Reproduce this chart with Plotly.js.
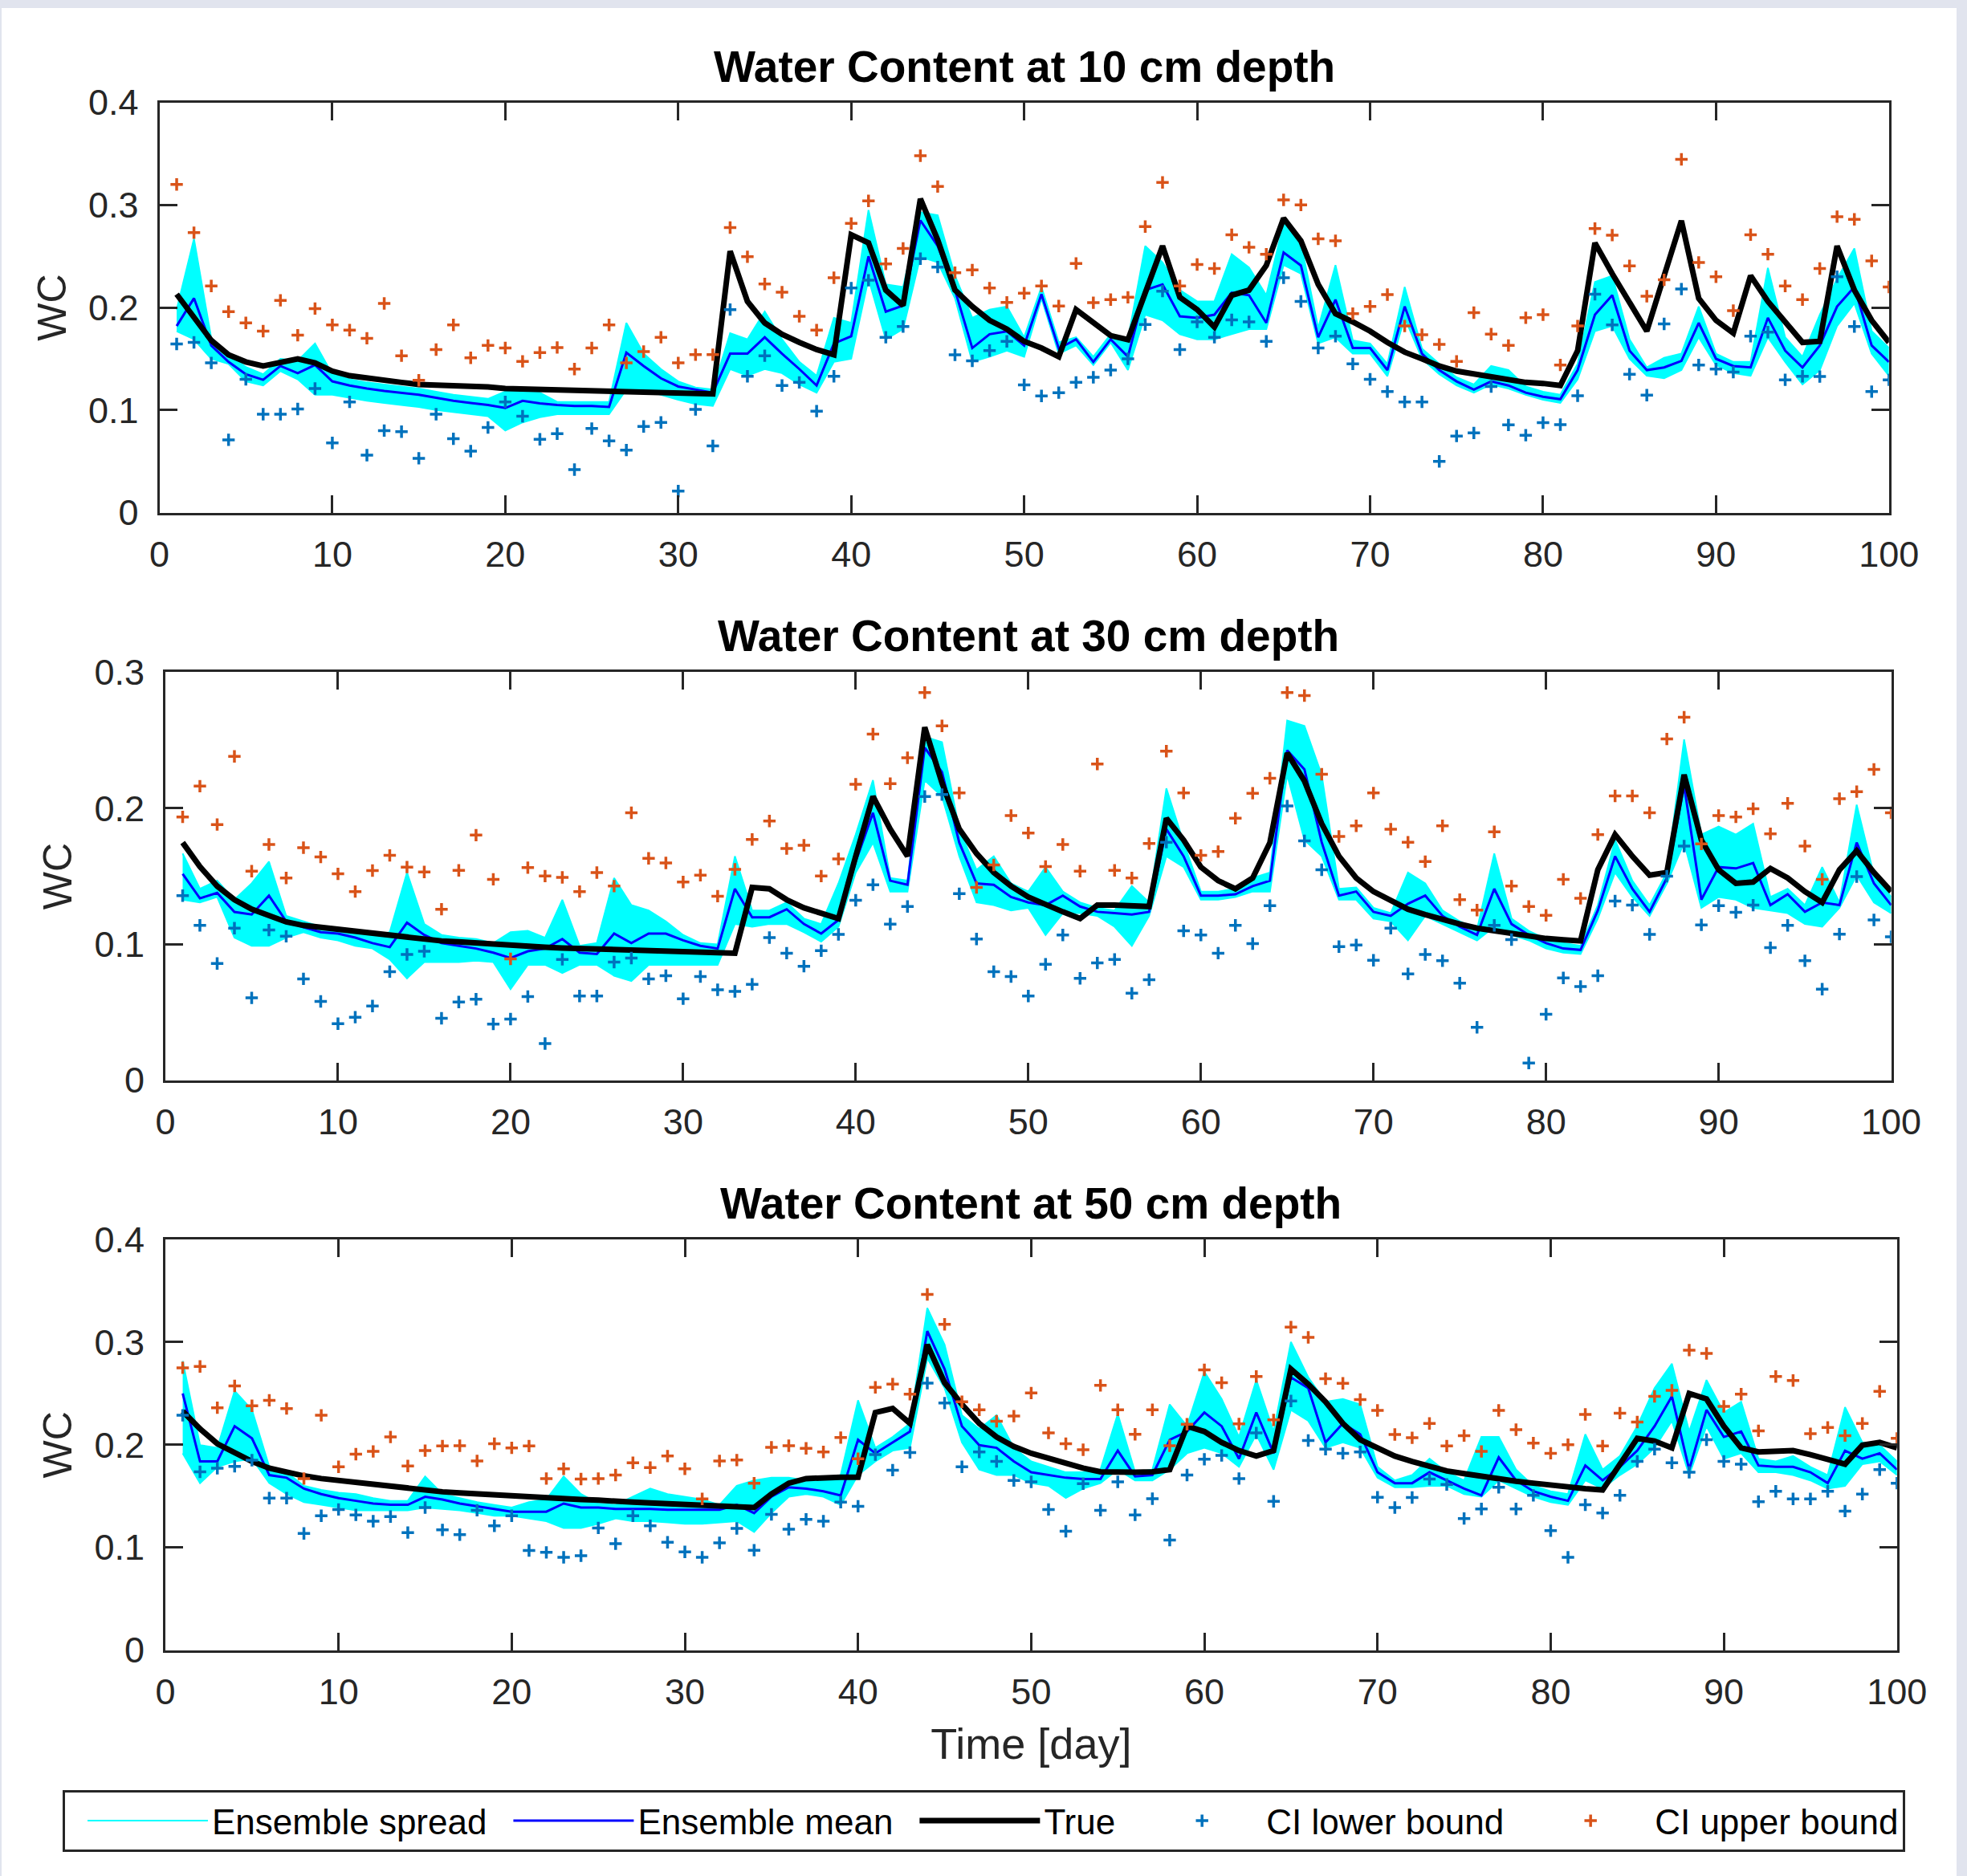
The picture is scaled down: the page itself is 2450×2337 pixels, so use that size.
<!DOCTYPE html>
<html>
<head>
<meta charset="utf-8">
<script src="https://cdn.plot.ly/plotly-3.0.1.min.js"></script>
<style>
  html, body { margin: 0; padding: 0; background: #e1e4ee; }
  #plot { position: absolute; left: 2px; top: 10px; width: 2435px; height: 2327px; background: #ffffff; }
</style>
</head>
<body>
<div id="plot"></div>
<script>
// ---------------- DATA ----------------
const days = [1,2,3,4,5,6,7,8,9,10,11,12,13,14,15,16,17,18,19,20,21,22,23,24,25,26,27,28,29,30,31,32,33,34,35,36,37,38,39,40,41,42,43,44,45,46,47,48,49,50,51,52,53,54,55,56,57,58,59,60,61,62,63,64,65,66,67,68,69,70,71,72,73,74,75,76,77,78,79,80,81,82,83,84,85,86,87,88,89,90,91,92,93,94,95,96,97,98,99,100];

const panelTitles = ["Water Content at 10 cm depth", "Water Content at 30 cm depth", "Water Content at 50 cm depth"];
const seriesNames = ["Ensemble spread", "Ensemble mean", "True", "CI lower bound", "CI upper bound"];
const yLabel = "WC";
const xLabel = "Time [day]";
const yTop = [0.4, 0.3, 0.4];

// ---- 10 cm ----
const true10 = [0.213,0.190,0.168,0.154,0.147,0.143,0.147,0.150,0.146,0.138,0.1335,0.131,0.129,0.127,0.125,0.1246,0.1238,0.123,0.1225,0.121,0.1205,0.120,0.1195,0.119,0.1188,0.1185,0.118,0.1175,0.117,0.116,0.1158,0.1157,0.255,0.206,0.185,0.174,0.166,0.159,0.154,0.271,0.263,0.217,0.202,0.306,0.266,0.217,0.201,0.1875,0.179,0.167,0.1605,0.152,0.198,0.185,0.1726,0.1686,0.2145,0.260,0.210,0.198,0.181,0.212,0.217,0.241,0.287,0.265,0.2226,0.194,0.186,0.177,0.166,0.1565,0.150,0.143,0.138,0.135,0.132,0.1295,0.127,0.126,0.124,0.158,0.263,0.233,0.204,0.177,0.231,0.2846,0.209,0.1875,0.175,0.231,0.206,0.185,0.166,0.167,0.260,0.217,0.1875,0.166];
const mean10 = [0.182,0.209,0.163,0.147,0.135,0.1295,0.143,0.136,0.144,0.128,0.124,0.121,0.1187,0.117,0.115,0.112,0.109,0.107,0.105,0.102,0.109,0.1066,0.105,0.104,0.104,0.103,0.156,0.143,0.131,0.123,0.120,0.117,0.155,0.155,0.171,0.155,0.140,0.124,0.165,0.172,0.250,0.196,0.202,0.285,0.260,0.217,0.1605,0.174,0.1767,0.163,0.213,0.160,0.169,0.147,0.169,0.152,0.217,0.2225,0.1915,0.190,0.193,0.2145,0.212,0.185,0.2536,0.241,0.171,0.2077,0.1605,0.1605,0.139,0.201,0.155,0.139,0.128,0.120,0.128,0.124,0.117,0.113,0.1106,0.139,0.193,0.212,0.158,0.139,0.1416,0.148,0.185,0.150,0.143,0.1416,0.190,0.158,0.1416,0.163,0.201,0.220,0.163,0.147];
const ensLo10 = [0.177,0.169,0.150,0.145,0.128,0.124,0.138,0.130,0.115,0.115,0.112,0.109,0.107,0.105,0.103,0.100,0.098,0.096,0.094,0.080,0.088,0.093,0.096,0.096,0.096,0.096,0.120,0.120,0.115,0.110,0.106,0.104,0.140,0.1335,0.140,0.136,0.125,0.117,0.147,0.150,0.228,0.169,0.179,0.2495,0.244,0.209,0.147,0.152,0.158,0.152,0.209,0.155,0.163,0.144,0.166,0.139,0.193,0.1875,0.174,0.169,0.169,0.174,0.179,0.179,0.2414,0.233,0.165,0.171,0.155,0.155,0.133,0.190,0.150,0.135,0.124,0.117,0.125,0.121,0.115,0.110,0.107,0.130,0.177,0.182,0.150,0.1335,0.131,0.139,0.171,0.144,0.136,0.1335,0.171,0.147,0.125,0.139,0.182,0.204,0.155,0.1335];
const ensHi10 = [0.198,0.267,0.170,0.155,0.142,0.135,0.150,0.148,0.165,0.135,0.130,0.127,0.125,0.123,0.121,0.118,0.115,0.113,0.111,0.118,0.119,0.117,0.108,0.108,0.108,0.108,0.185,0.155,0.140,0.128,0.122,0.120,0.175,0.169,0.196,0.169,0.147,0.1335,0.190,0.185,0.295,0.2225,0.220,0.293,0.290,0.231,0.190,0.198,0.201,0.171,0.220,0.166,0.171,0.152,0.174,0.169,0.260,0.244,0.217,0.206,0.206,0.252,0.239,0.212,0.282,0.263,0.180,0.2414,0.168,0.165,0.145,0.220,0.160,0.145,0.132,0.125,0.143,0.139,0.123,0.118,0.115,0.145,0.225,0.231,0.169,0.1416,0.151,0.155,0.201,0.155,0.147,0.147,0.2387,0.171,0.152,0.193,0.228,0.2576,0.177,0.1605];
const ciLow10 = [0.1645,0.166,0.146,0.071,0.130,0.096,0.096,0.101,0.121,0.068,0.108,0.056,0.080,0.079,0.053,0.096,0.072,0.060,0.083,0.108,0.094,0.0715,0.077,0.042,0.082,0.070,0.061,0.084,0.088,0.021,0.1006,0.065,0.198,0.133,0.153,0.124,0.127,0.099,0.133,0.219,0.2266,0.171,0.1815,0.2476,0.2395,0.1538,0.148,0.158,0.167,0.1246,0.1138,0.117,0.127,0.132,0.139,0.150,0.1834,0.216,0.159,0.186,0.171,0.188,0.186,0.167,0.229,0.206,0.1605,0.172,0.145,0.130,0.118,0.108,0.108,0.050,0.0747,0.0777,0.123,0.0855,0.0755,0.0877,0.0858,0.114,0.213,0.183,0.135,0.1146,0.184,0.218,0.144,0.140,0.137,0.172,0.176,0.1295,0.133,0.1327,0.230,0.1815,0.118,0.1295];
const ciUp10 = [0.320,0.273,0.221,0.196,0.185,0.177,0.207,0.173,0.199,0.183,0.178,0.170,0.204,0.153,0.129,0.159,0.183,0.151,0.163,0.1605,0.1475,0.156,0.161,0.140,0.1605,0.183,0.146,0.157,0.171,0.146,0.154,0.154,0.278,0.2495,0.223,0.215,0.1915,0.178,0.229,0.282,0.304,0.2425,0.2576,0.348,0.318,0.234,0.2366,0.219,0.205,0.214,0.221,0.2015,0.243,0.2047,0.2077,0.210,0.279,0.322,0.221,0.242,0.238,0.271,0.2587,0.252,0.305,0.300,0.267,0.265,0.194,0.201,0.2126,0.182,0.1735,0.164,0.1475,0.195,0.174,0.163,0.190,0.193,0.144,0.182,0.277,0.2706,0.2406,0.211,0.227,0.3445,0.244,0.230,0.197,0.271,0.252,0.221,0.2077,0.238,0.2886,0.286,0.2455,0.220];

// ---- 30 cm ----
const true30 = [0.1747,0.157,0.1427,0.1327,0.1257,0.121,0.1164,0.1138,0.1124,0.111,0.1088,0.1072,0.1058,0.1048,0.1038,0.1024,0.1018,0.1008,0.100,0.0992,0.0984,0.0978,0.0972,0.0968,0.0962,0.0956,0.0952,0.0948,0.0944,0.094,0.0938,0.0936,0.0934,0.1417,0.1407,0.1327,0.1267,0.1228,0.1188,0.1647,0.2086,0.1846,0.1647,0.2595,0.2186,0.1846,0.1667,0.1527,0.1427,0.1347,0.1287,0.1238,0.1188,0.1287,0.1287,0.1277,0.1277,0.1926,0.1766,0.1567,0.1467,0.1407,0.1487,0.1747,0.2405,0.220,0.1886,0.1647,0.1487,0.1387,0.1317,0.1257,0.1218,0.1178,0.1148,0.1118,0.1098,0.1078,0.1058,0.1042,0.1032,0.1024,0.1547,0.1806,0.1647,0.1507,0.1527,0.2246,0.1766,0.1547,0.1447,0.1457,0.1557,0.1487,0.1387,0.1307,0.1547,0.1687,0.1527,0.1387];
const mean30 = [0.1517,0.1337,0.1377,0.1237,0.1218,0.1357,0.1168,0.1124,0.1088,0.1078,0.1048,0.1008,0.0978,0.1158,0.1068,0.1008,0.0988,0.0968,0.0938,0.0898,0.0948,0.0968,0.1038,0.0938,0.0928,0.1078,0.1008,0.1078,0.1078,0.1028,0.0988,0.0968,0.1407,0.1198,0.1198,0.1257,0.1148,0.1078,0.1178,0.1607,0.1966,0.1467,0.1437,0.2445,0.2265,0.1747,0.1447,0.1437,0.1347,0.1307,0.1287,0.1357,0.1277,0.1238,0.1228,0.1218,0.1238,0.1846,0.1647,0.1357,0.1357,0.1367,0.1427,0.1467,0.2425,0.2285,0.175,0.1357,0.1387,0.1238,0.1208,0.1297,0.1357,0.1208,0.1128,0.1068,0.1407,0.1148,0.1068,0.1008,0.0968,0.0958,0.1248,0.1647,0.1407,0.1238,0.1487,0.2166,0.1327,0.1567,0.1557,0.1597,0.1287,0.1367,0.1238,0.1307,0.1287,0.1747,0.1447,0.1287];
const ensLo30 = [0.1327,0.1307,0.1347,0.1048,0.0988,0.0988,0.1048,0.1088,0.1048,0.1028,0.0988,0.0968,0.0888,0.0749,0.0868,0.0868,0.0868,0.0878,0.0868,0.0669,0.0848,0.0848,0.0788,0.0848,0.0848,0.0768,0.0729,0.0848,0.0848,0.0848,0.0848,0.0848,0.1148,0.1128,0.1148,0.1148,0.1088,0.1018,0.1128,0.1527,0.1747,0.1387,0.1387,0.2206,0.2086,0.1647,0.1307,0.1287,0.1248,0.1267,0.1068,0.1228,0.1228,0.1208,0.1128,0.0988,0.1208,0.1647,0.1567,0.1327,0.1327,0.1347,0.1387,0.1387,0.2246,0.1766,0.1647,0.1327,0.1327,0.1188,0.1168,0.1028,0.1208,0.1148,0.1088,0.1028,0.1128,0.1068,0.1028,0.0968,0.0938,0.0928,0.1188,0.1527,0.1347,0.1208,0.1447,0.1747,0.1267,0.1347,0.1327,0.1267,0.1248,0.1228,0.1148,0.1128,0.1267,0.1507,0.1307,0.1228];
const ensHi30 = [0.1667,0.1407,0.1467,0.1327,0.1447,0.1607,0.1208,0.1168,0.1128,0.1108,0.1078,0.1058,0.1088,0.1527,0.1148,0.1068,0.1048,0.1038,0.1008,0.1088,0.1098,0.1048,0.1327,0.0988,0.1008,0.1487,0.1287,0.1248,0.1168,0.1068,0.1008,0.0998,0.1647,0.1248,0.1248,0.1307,0.1188,0.1148,0.1447,0.1806,0.2206,0.1487,0.1467,0.2525,0.2485,0.1846,0.1547,0.1647,0.1447,0.1387,0.1567,0.1387,0.1307,0.1267,0.1248,0.1427,0.1307,0.2146,0.1747,0.1387,0.1387,0.1407,0.1487,0.1527,0.2645,0.2605,0.2246,0.1407,0.1417,0.1267,0.1228,0.1527,0.1447,0.1248,0.1168,0.1108,0.1667,0.1188,0.1098,0.1038,0.1008,0.0988,0.1287,0.1766,0.1467,0.1287,0.1527,0.2505,0.1806,0.1866,0.1806,0.1886,0.1347,0.1407,0.1287,0.1567,0.1307,0.2026,0.1507,0.1347];
const ciLow30 = [0.1357,0.1138,0.0858,0.1118,0.0605,0.1104,0.1058,0.0745,0.0579,0.0415,0.0463,0.0545,0.0798,0.0924,0.0948,0.0455,0.0575,0.0595,0.0413,0.0449,0.0615,0.0269,0.0888,0.0619,0.0619,0.0868,0.0898,0.0745,0.0768,0.0599,0.0762,0.0665,0.0653,0.0705,0.1048,0.0934,0.0838,0.0952,0.1072,0.1323,0.1437,0.1148,0.1277,0.2086,0.210,0.1371,0.1038,0.0798,0.0762,0.0619,0.0852,0.1068,0.0749,0.0862,0.0888,0.0639,0.0739,0.175,0.1098,0.1068,0.0934,0.1138,0.1004,0.1283,0.2016,0.176,0.1547,0.0982,0.0994,0.0882,0.1118,0.0782,0.0924,0.0878,0.0713,0.0389,0.1138,0.1034,0.0126,0.0485,0.0752,0.0689,0.0768,0.1317,0.1287,0.1072,0.150,0.1721,0.1142,0.1283,0.1234,0.1287,0.0974,0.1138,0.0878,0.0669,0.1074,0.1497,0.1178,0.1054];
const ciUp30 = [0.1936,0.2162,0.188,0.2381,0.1537,0.1733,0.1487,0.171,0.1641,0.1517,0.1387,0.1541,0.1653,0.1567,0.1531,0.1257,0.1543,0.1802,0.1477,0.0892,0.1563,0.1501,0.1491,0.1387,0.1527,0.1427,0.1966,0.1631,0.1597,0.1457,0.1507,0.1353,0.155,0.177,0.1906,0.1703,0.1727,0.1501,0.1627,0.2176,0.2545,0.218,0.2371,0.285,0.2605,0.2112,0.1417,0.1583,0.1946,0.1818,0.1571,0.1733,0.1537,0.2325,0.1543,0.1487,0.174,0.2419,0.2112,0.1653,0.1681,0.1926,0.211,0.222,0.285,0.2828,0.225,0.1792,0.187,0.2112,0.1846,0.175,0.1607,0.187,0.1327,0.1251,0.1826,0.1427,0.1277,0.1212,0.1477,0.1337,0.1806,0.209,0.209,0.1966,0.2509,0.2669,0.1737,0.1946,0.1936,0.1996,0.1812,0.2036,0.1721,0.1477,0.207,0.2122,0.2285,0.1966];

// ---- 50 cm ----
const true50 = [0.2327,0.2155,0.201,0.1917,0.1838,0.1772,0.1732,0.1697,0.1671,0.1653,0.1626,0.1605,0.1586,0.1568,0.1555,0.1542,0.1531,0.152,0.1512,0.1502,0.1494,0.1486,0.1478,0.1467,0.146,0.1446,0.1441,0.1433,0.1425,0.1415,0.1407,0.1399,0.1393,0.1388,0.152,0.1626,0.1671,0.1684,0.1684,0.1684,0.2314,0.2353,0.2208,0.2975,0.2604,0.2393,0.2208,0.2076,0.1983,0.1917,0.1864,0.1811,0.1772,0.1737,0.1732,0.1732,0.1737,0.1758,0.2181,0.2129,0.2023,0.1943,0.189,0.1943,0.2737,0.259,0.2419,0.2208,0.2049,0.197,0.189,0.1838,0.1785,0.1745,0.1719,0.1692,0.1671,0.1645,0.1626,0.1605,0.1586,0.1573,0.156,0.1811,0.2062,0.2036,0.197,0.2499,0.2446,0.2181,0.197,0.193,0.193,0.1943,0.1904,0.1864,0.1811,0.1996,0.2023,0.197];
const mean50 = [0.2499,0.1838,0.1838,0.2181,0.2062,0.1705,0.1679,0.1573,0.152,0.1481,0.1454,0.1428,0.1415,0.1415,0.1494,0.1467,0.1428,0.1401,0.1375,0.1348,0.1348,0.1348,0.1428,0.1388,0.1388,0.1375,0.1375,0.1375,0.1367,0.1367,0.1367,0.1367,0.1415,0.1335,0.1494,0.1586,0.1573,0.1547,0.1507,0.2049,0.1917,0.2023,0.2129,0.3107,0.2737,0.2181,0.1996,0.197,0.1838,0.1732,0.1705,0.1679,0.1666,0.1666,0.1943,0.1692,0.1705,0.2049,0.2129,0.2314,0.2181,0.1864,0.2314,0.1917,0.2657,0.2552,0.2023,0.2208,0.2102,0.1732,0.1626,0.1626,0.1732,0.1653,0.1573,0.1507,0.1877,0.1653,0.1547,0.1494,0.1454,0.1798,0.1653,0.1785,0.1943,0.2181,0.2472,0.1758,0.234,0.2076,0.2129,0.1798,0.1785,0.1785,0.1732,0.1626,0.1943,0.1864,0.1917,0.1758];
const ensLo50 = [0.1917,0.1626,0.1785,0.1838,0.1864,0.1626,0.152,0.1441,0.1415,0.1388,0.1362,0.1362,0.1362,0.1362,0.1388,0.1375,0.1362,0.1335,0.1309,0.1309,0.1282,0.1256,0.119,0.119,0.123,0.1282,0.1256,0.1256,0.1243,0.123,0.123,0.1243,0.1256,0.115,0.1335,0.1494,0.152,0.1494,0.1415,0.1705,0.1838,0.1943,0.197,0.2842,0.2552,0.2023,0.1758,0.1705,0.1705,0.1626,0.160,0.1481,0.1573,0.1626,0.1758,0.1653,0.1653,0.1758,0.1917,0.197,0.1917,0.1785,0.2102,0.1758,0.234,0.2234,0.197,0.2023,0.197,0.1679,0.1586,0.1586,0.160,0.160,0.152,0.1494,0.1653,0.1573,0.1494,0.1441,0.1415,0.1653,0.1573,0.1705,0.1811,0.197,0.2234,0.1705,0.2181,0.1864,0.1917,0.1732,0.1732,0.1705,0.1653,0.1573,0.160,0.1811,0.1838,0.1705];
const ensHi50 = [0.2816,0.1996,0.197,0.2525,0.234,0.1785,0.1732,0.160,0.156,0.1534,0.152,0.1481,0.1454,0.1454,0.1692,0.152,0.1481,0.1441,0.1415,0.1388,0.1441,0.1467,0.1692,0.152,0.1428,0.1415,0.1494,0.1573,0.152,0.1494,0.1467,0.1415,0.160,0.1653,0.1679,0.1679,0.1653,0.1653,0.1705,0.2433,0.197,0.2076,0.2208,0.3332,0.2975,0.2287,0.2155,0.2287,0.197,0.1838,0.1785,0.1732,0.1732,0.1758,0.230,0.1732,0.1758,0.2393,0.2181,0.271,0.2446,0.2076,0.2631,0.2129,0.3001,0.2657,0.2419,0.2446,0.2393,0.1785,0.1653,0.1705,0.1864,0.1732,0.1653,0.2076,0.2076,0.1758,0.160,0.1547,0.152,0.2102,0.1758,0.189,0.2181,0.2552,0.279,0.2129,0.2631,0.2314,0.2419,0.1864,0.1838,0.189,0.1785,0.1705,0.2366,0.2023,0.1996,0.1838];
const ciLow50 = [0.2287,0.1737,0.1772,0.179,0.185,0.1481,0.1481,0.1137,0.1309,0.137,0.1317,0.1256,0.1301,0.1145,0.1388,0.1171,0.1124,0.1362,0.1211,0.1309,0.097,0.0952,0.0904,0.092,0.119,0.1036,0.1309,0.1211,0.105,0.0957,0.0904,0.1044,0.1185,0.0973,0.1322,0.1177,0.1274,0.1256,0.1441,0.1401,0.1904,0.1753,0.1925,0.26,0.2406,0.1785,0.193,0.1838,0.1653,0.1639,0.137,0.1158,0.1621,0.1362,0.1639,0.1317,0.1475,0.1071,0.1705,0.1859,0.1896,0.1671,0.2115,0.1449,0.2427,0.2041,0.1957,0.1917,0.193,0.1489,0.1388,0.1486,0.1666,0.1613,0.1282,0.1375,0.1586,0.1375,0.1507,0.1163,0.0904,0.1415,0.1335,0.1507,0.1838,0.1957,0.1824,0.1732,0.2049,0.1838,0.1811,0.1446,0.1547,0.1473,0.1473,0.1547,0.1354,0.152,0.1758,0.1626];
const ciUp50 = [0.275,0.2763,0.2361,0.2573,0.238,0.2433,0.2353,0.1671,0.2287,0.1785,0.1909,0.1935,0.2076,0.1793,0.1943,0.1988,0.1991,0.1843,0.201,0.197,0.1988,0.1671,0.1766,0.1666,0.1671,0.1705,0.1824,0.1777,0.189,0.1766,0.1473,0.1843,0.1851,0.1626,0.1975,0.1991,0.1965,0.193,0.207,0.1864,0.256,0.2591,0.2493,0.3464,0.3173,0.2419,0.234,0.2229,0.2279,0.2504,0.2115,0.201,0.1951,0.2578,0.234,0.2102,0.234,0.1991,0.22,0.2729,0.2604,0.2203,0.2665,0.2242,0.3146,0.3046,0.2644,0.2599,0.244,0.2335,0.21,0.2068,0.2208,0.1988,0.2089,0.1935,0.2335,0.2147,0.2017,0.1917,0.20,0.2295,0.1988,0.2308,0.2221,0.2472,0.253,0.2922,0.289,0.2374,0.2493,0.2136,0.2665,0.2626,0.2107,0.2168,0.2089,0.2208,0.252,0.2062];

// ---------------- BUILD ----------------
const W = 2435, H = 2327;
const FONT = "Liberation Sans, Arial, Helvetica, sans-serif";
const AXC = "#262626";
// plot boxes in div pixels: [left, right, top, bottom]
const boxes = [[196.5, 2350.8, 117.6, 628.6], [204, 2353.6, 827.4, 1335.6], [204, 2360.8, 1534, 2045.6]];

const panels = [
  {lo: ensLo10, hi: ensHi10, mean: mean10, tru: true10, cil: ciLow10, ciu: ciUp10},
  {lo: ensLo30, hi: ensHi30, mean: mean30, tru: true30, cil: ciLow30, ciu: ciUp30},
  {lo: ensLo50, hi: ensHi50, mean: mean50, tru: true50, cil: ciLow50, ciu: ciUp50}
];

const traces = [];
panels.forEach((p, i) => {
  const xa = i === 0 ? 'x' : 'x' + (i + 1);
  const ya = i === 0 ? 'y' : 'y' + (i + 1);
  const leg = i === 0;
  traces.push({x: days, y: p.lo, xaxis: xa, yaxis: ya, type: 'scatter', mode: 'lines',
    name: seriesNames[0], legendgroup: 'spread', showlegend: leg,
    line: {color: '#00ffff', width: 2}});
  traces.push({x: days, y: p.hi, xaxis: xa, yaxis: ya, type: 'scatter', mode: 'lines',
    name: seriesNames[0], legendgroup: 'spread', showlegend: false,
    fill: 'tonexty', fillcolor: '#00ffff', line: {color: '#00ffff', width: 2}});
  traces.push({x: days, y: p.mean, xaxis: xa, yaxis: ya, type: 'scatter', mode: 'lines',
    name: seriesNames[1], legendgroup: 'mean', showlegend: leg,
    line: {color: '#0000ff', width: 3}});
  traces.push({x: days, y: p.tru, xaxis: xa, yaxis: ya, type: 'scatter', mode: 'lines',
    name: seriesNames[2], legendgroup: 'true', showlegend: leg,
    line: {color: '#000000', width: 7}});
  traces.push({x: days, y: p.cil, xaxis: xa, yaxis: ya, type: 'scatter', mode: 'markers',
    name: seriesNames[3], legendgroup: 'cil', showlegend: leg,
    marker: {symbol: 'cross-thin', size: 11, color: '#0072bd', line: {color: '#0072bd', width: 3.5}}});
  traces.push({x: days, y: p.ciu, xaxis: xa, yaxis: ya, type: 'scatter', mode: 'markers',
    name: seriesNames[4], legendgroup: 'ciu', showlegend: leg,
    marker: {symbol: 'cross-thin', size: 11, color: '#d95319', line: {color: '#d95319', width: 3.5}}});
});

const layout = {
  width: W, height: H,
  margin: {l: 0, r: 0, t: 0, b: 0, pad: 0, autoexpand: false},
  paper_bgcolor: '#ffffff', plot_bgcolor: '#ffffff',
  font: {family: FONT, color: AXC, size: 45},
  showlegend: true,
  legend: {
    orientation: 'h', x: 76 / W, y: 1 - 2220 / H, xanchor: 'left', yanchor: 'top',
    bordercolor: AXC, borderwidth: 3, bgcolor: '#ffffff',
    font: {family: FONT, size: 44, color: '#000000'},
    itemwidth: 150, indentation: 23, tracegroupgap: 0, traceorder: 'normal'
  },
  annotations: []
};

boxes.forEach((b, i) => {
  const sfx = i === 0 ? '' : String(i + 1);
  const xa = 'xaxis' + sfx, ya = 'yaxis' + sfx;
  layout[xa] = {
    domain: [b[0] / W, b[1] / W], anchor: 'y' + sfx, range: [0, 100], dtick: 10, tick0: 0,
    ticks: 'inside', ticklen: 22, tickwidth: 3, tickcolor: AXC,
    showline: true, linewidth: 3, linecolor: AXC, mirror: 'ticks',
    showgrid: false, zeroline: false, fixedrange: true,
    tickfont: {family: FONT, size: 45, color: AXC}, ticklabelstandoff: 10
  };
  layout[ya] = {
    domain: [1 - b[3] / H, 1 - b[2] / H], anchor: 'x' + sfx, range: [0, yTop[i]], dtick: 0.1, tick0: 0,
    ticks: 'inside', ticklen: 22, tickwidth: 3, tickcolor: AXC,
    showline: true, linewidth: 3, linecolor: AXC, mirror: 'ticks',
    showgrid: false, zeroline: false, fixedrange: true,
    tickfont: {family: FONT, size: 45, color: AXC}, ticklabelstandoff: 14,
    title: {text: yLabel, font: {family: FONT, size: 50, color: AXC}, standoff: 12}
  };
  layout.annotations.push({
    text: '<b>' + panelTitles[i] + '</b>', showarrow: false,
    xref: 'x' + sfx + ' domain', x: 0.5, xanchor: 'center',
    yref: 'y' + sfx + ' domain', y: 1, yanchor: 'middle', yshift: 45,
    font: {family: FONT, size: 55, color: '#000000'}
  });
});
layout.xaxis3.title = {text: xLabel, font: {family: FONT, size: 54, color: AXC}, standoff: 22};

Plotly.newPlot('plot', traces, layout, {displayModeBar: false, staticPlot: true});
</script>
</body>
</html>
